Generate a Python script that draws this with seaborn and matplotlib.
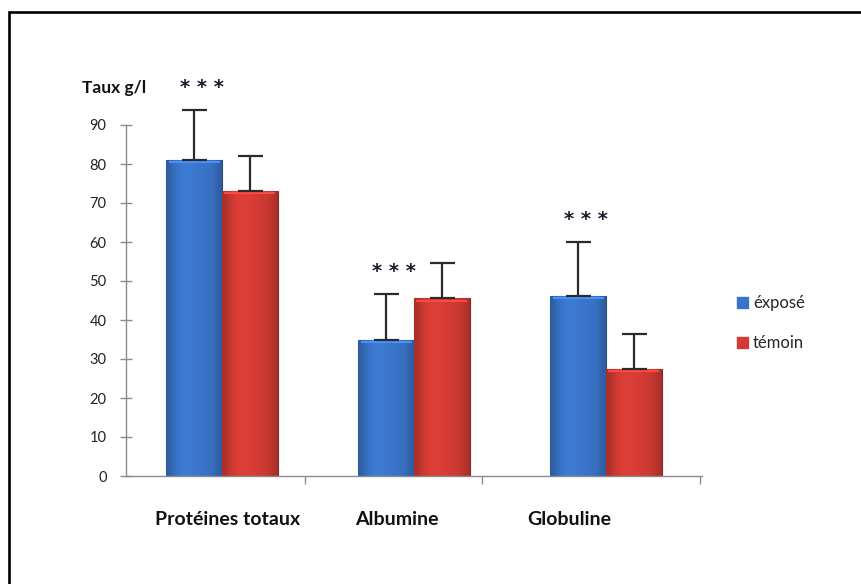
import numpy as np
import pandas as pd
import matplotlib
matplotlib.use("Agg")
import matplotlib.pyplot as plt
from matplotlib.patches import Rectangle
from matplotlib.colors import to_rgb
import seaborn as sns

# Protein levels (g/l), mean and standard deviation per group
categories = ["Protéines totaux", "Albumine", "Globuline"]
groups = ["éxposé", "témoin"]
mean_expose = [81.0, 35.0, 46.2]
mean_temoin = [73.2, 45.6, 27.4]
sd_expose = [12.8, 11.7, 13.8]
sd_temoin = [8.9, 9.0, 9.0]
significance = ["***", "***", "***"]
y_ticks = [0, 10, 20, 30, 40, 50, 60, 70, 80, 90]

df = pd.DataFrame({
    "categorie": categories * 2,
    "groupe": [groups[0]] * 3 + [groups[1]] * 3,
    "taux": mean_expose + mean_temoin,
    "sd": sd_expose + sd_temoin,
})

sns.set_theme(style="white")
plt.rcParams["font.family"] = ["Lato", "DejaVu Sans"]

palette = {"éxposé": "#3a74c9", "témoin": "#d23b34"}

fig = plt.figure(figsize=(8.61, 5.84), dpi=100)
ax = fig.add_axes([126 / 861, 1 - 476 / 584, 576 / 861, 351 / 584])

sns.barplot(data=df, x="categorie", y="taux", hue="groupe", order=categories,
            hue_order=groups, palette=palette, width=0.58, errorbar=None,
            saturation=1, ax=ax, legend=False)

# bevelled look: horizontal shading clipped to each bar
bars = [p for p in ax.patches if isinstance(p, Rectangle) and p.get_height() > 0]
shade = np.array([0.8, 0.95, 1.04, 1.06, 1.05, 1.03, 1.0, 0.98, 0.95, 0.8])
for p in bars:
    base = np.array(to_rgb(p.get_facecolor()))
    grad = np.clip(base[None, :] * shade[:, None], 0, 1)[None, :, :]
    x0, y0 = p.get_x(), p.get_y()
    w, h = p.get_width(), p.get_height()
    im = ax.imshow(grad, extent=[x0, x0 + w, y0, y0 + h], aspect="auto",
                   interpolation="bicubic", zorder=p.get_zorder() + 0.1)
    im.set_clip_path(p)
    p.set_edgecolor(tuple(base * 0.65))
    p.set_linewidth(0.8)
    # light top bevel
    ax.plot([x0 + w * 0.04, x0 + w * 0.96], [y0 + h - 0.6, y0 + h - 0.6],
            color=tuple(np.clip(base * 1.25, 0, 1)), lw=1.5, zorder=p.get_zorder() + 0.2,
            solid_capstyle="butt")

# upward error bars
lookup = {(r.categorie, r.groupe): (r.taux, r.sd) for r in df.itertuples()}
patch_iter = iter(bars)
for g in groups:
    for c in categories:
        p = next(patch_iter)
        m, s = lookup[(c, g)]
        xc = p.get_x() + p.get_width() / 2
        ax.errorbar(xc, m, yerr=[[0], [s]], fmt="none", ecolor="#2b2b2b",
                    elinewidth=1.6, capsize=9, capthick=1.6, zorder=5, clip_on=False)

# significance stars above exposed group
for i, c in enumerate(categories):
    m, s = lookup[(c, groups[0])]
    ax.text(i - 0.105, m + s + 5.8, " ".join(significance[i]),
            ha="center", va="center", fontsize=14, fontweight="bold", color="#1a1a2e",
            family="DejaVu Sans", clip_on=False)

ax.set_xlim(-0.5, 2.5)
ax.set_ylim(0, 90)
ax.set_yticks(y_ticks)
ax.tick_params(axis="y", which="major", direction="inout", length=8, width=1,
               color="#8c8c8c", labelsize=10.5, labelcolor="#222222", pad=10, left=True)

# category labels and boundary tick marks
ax.set_xticks([0.03, 0.91, 1.81])
ax.set_xticklabels(categories, fontsize=14, fontweight="bold", color="#111111")
ax.tick_params(axis="x", which="major", length=0, pad=25)
ax.set_xticks([0.43, 1.355, 2.49], minor=True)
ax.tick_params(axis="x", which="minor", direction="out", length=6, width=1,
               color="#8c8c8c", bottom=True)
ax.set_xlabel("")
ax.set_ylabel("")

for side in ["top", "right"]:
    ax.spines[side].set_visible(False)
for side in ["left", "bottom"]:
    ax.spines[side].set_color("#8c8c8c")
    ax.spines[side].set_linewidth(1)

fig.text(82 / 861, 1 - 88 / 584, "Taux g/l", fontsize=12.5, fontweight="bold",
         color="#111111", ha="left", va="center")

# legend
handles = [Rectangle((0, 0), 1, 1, facecolor=palette[g], edgecolor=palette[g]) for g in groups]
fig.legend(handles, groups, loc="upper left", bbox_to_anchor=(722 / 861, 1 - 280 / 584),
           frameon=False, fontsize=12, handlelength=0.65, handleheight=0.65,
           handletextpad=0.3, labelspacing=1.45)

# outer frame
fig.patches.append(Rectangle((8.5 / 861, -0.05), 1.1, 1.05 - 11.5 / 584,
                             transform=fig.transFigure, fill=False,
                             edgecolor="black", linewidth=1.9))

fig.savefig("out.png", dpi=100)
